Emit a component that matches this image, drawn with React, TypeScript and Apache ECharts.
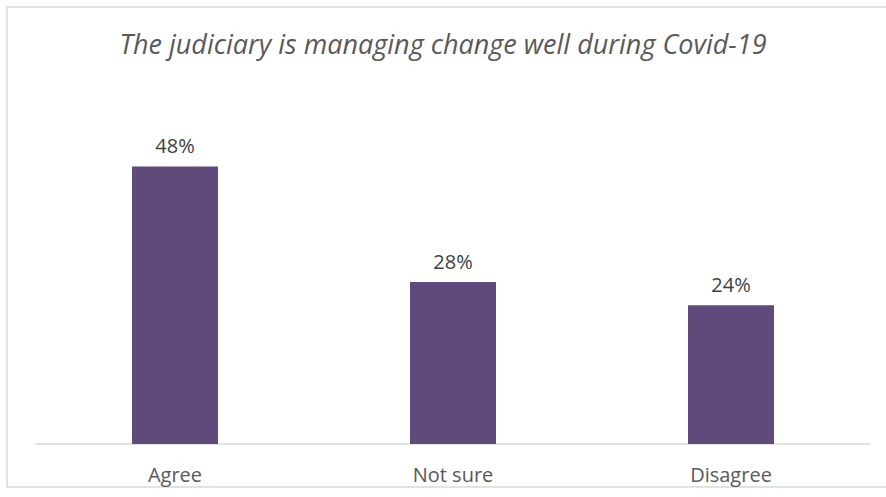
import React, { useEffect, useRef } from "react";
import * as echarts from "echarts";

const categories = ["Agree", "Not sure", "Disagree"];
const values = [48, 28, 24];
const subtitle = "The judiciary is managing change well during Covid-19";

export default function App() {
  const ref = useRef<HTMLDivElement>(null);
  useEffect(() => {
    if (!ref.current) return;
    const chart = echarts.init(ref.current, null, { renderer: "svg" });
    chart.setOption({
      animation: false,
      backgroundColor: "#ffffff",
      title: {
        text: subtitle,
        left: "center",
        top: 25,
        textStyle: {
          fontFamily: "Open Sans",
          fontStyle: "italic",
          fontWeight: "normal",
          fontSize: 27,
          color: "#595959",
        },
      },
      graphic: [
        {
          type: "rect",
          shape: { x: 7, y: 7, width: 900, height: 480 },
          style: { fill: "none", stroke: "#d9d9d9", lineWidth: 1.5 },
          silent: true,
        },
      ],
      grid: { left: 36, right: 16, top: 97, bottom: 53 },
      xAxis: {
        type: "category",
        data: categories,
        axisLine: { lineStyle: { color: "#d9d9d9", width: 1.5 } },
        axisTick: { show: false },
        axisLabel: {
          fontFamily: "Open Sans",
          fontSize: 20,
          color: "#595959",
          margin: 20,
        },
      },
      yAxis: {
        type: "value",
        min: 0,
        max: 60,
        show: false,
        splitLine: { show: false },
      },
      series: [
        {
          type: "bar",
          data: values,
          barWidth: 86,
          itemStyle: { color: "#604a7b" },
          label: {
            show: true,
            position: "top",
            distance: 11,
            formatter: (p: any) => p.value + "%",
            fontFamily: "Open Sans",
            fontSize: 20,
            color: "#404040",
          },
        },
      ],
    });
    return () => chart.dispose();
  }, []);
  return (
    <div
      ref={ref}
      style={{ position: "fixed", left: 0, top: 0, width: 886, height: 497 }}
    />
  );
}
